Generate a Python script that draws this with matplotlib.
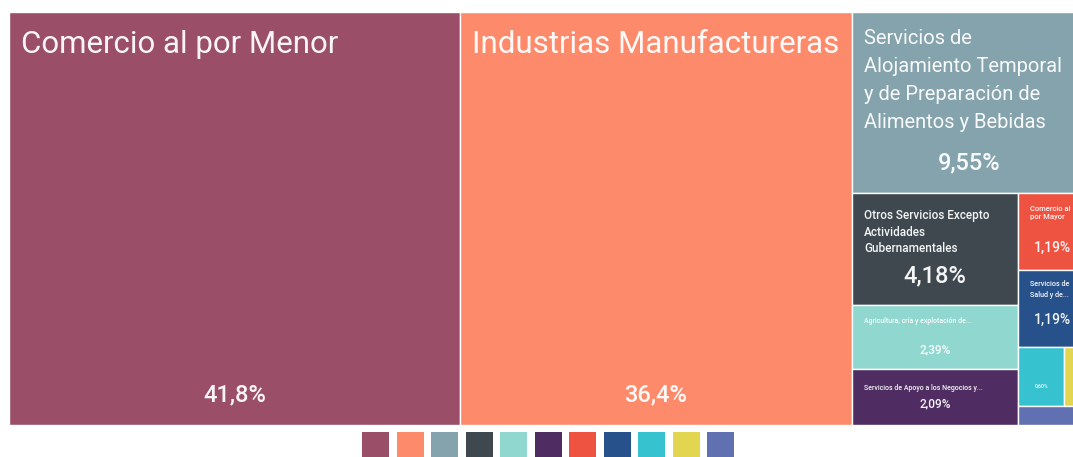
import matplotlib
matplotlib.use("Agg")
import matplotlib.pyplot as plt
from matplotlib.patches import Rectangle

plt.rcParams['font.family'] = ['Roboto', 'DejaVu Sans']

# data
categories = [
    'Comercio al por Menor',
    'Industrias Manufactureras',
    'Servicios de\nAlojamiento Temporal\ny de Preparación de\nAlimentos y Bebidas',
    'Otros Servicios Excepto\nActividades\nGubernamentales',
    'Agricultura, cría y explotación de...',
    'Servicios de Apoyo a los Negocios y...',
    'Comercio al\npor Mayor',
    'Servicios de\nSalud y de...',
    '',
    '',
    '',
]
values = [41.8, 36.4, 9.55, 4.18, 2.39, 2.09, 1.19, 1.19, 0.60, 0.30, 0.30]
colors = ['#9a4e67', '#fd8b6b', '#85a3ad', '#3e484e', '#8fd7cf', '#4f2d63',
          '#ee5342', '#27518a', '#36c3cf', '#e2d650', '#6170b1']

# text styles per cell: label size, pct size, label offset from top, pct offset
# (negative pct offset = measured from the bottom of the cell)
label_size = [22.5, 22.5, 14.5, 8.5, 5.0, 5.0, 5.5, 5.2, 0, 0, 0]
label_ls = [1.3, 1.3, 1.6, 1.35, 1.3, 1.3, 1.45, 1.45, 1, 1, 1]
pct_size = [17, 17, 17, 17, 8.5, 8.5, 10, 10, 3.8, 0, 0]
label_dy = [18, 18, 17, 16, 12, 15, 13, 10, 0, 0, 0]
pct_dy = [-30, -30, 151, 83, 45, 35, 55, 50, 39, 0, 0]

W, H = 1078, 413
PHI = (1 + 5 ** 0.5) / 2


def squarify(vals, x0, y0, x1, y1, ratio=PHI):
    # same idea as d3.treemapSquarify
    rects = []
    value = sum(vals)
    i0, n = 0, len(vals)
    while i0 < n:
        dx, dy = x1 - x0, y1 - y0
        i1 = i0
        sumv = vals[i1]
        i1 += 1
        minv = maxv = sumv
        alpha = max(dy / dx, dx / dy) / (value * ratio)
        beta = sumv * sumv * alpha
        minr = max(maxv / beta, beta / minv)
        while i1 < n:
            v = vals[i1]
            s = sumv + v
            mn, mx = min(minv, v), max(maxv, v)
            beta = s * s * alpha
            nr = max(mx / beta, beta / mn)
            if nr > minr:
                break
            sumv, minv, maxv, minr = s, mn, mx, nr
            i1 += 1
        row = vals[i0:i1]
        if dx < dy:
            h = dy * sumv / value
            xx = x0
            for v in row:
                w = dx * v / sumv
                rects.append((xx, y0, w, h))
                xx += w
            y0 += h
        else:
            w = dx * sumv / value
            yy = y0
            for v in row:
                h = dy * v / sumv
                rects.append((x0, yy, w, h))
                yy += h
            x0 += w
        value -= sumv
        i0 = i1
    return rects


def fmt(v):
    s = f"{v:.1f}" if v >= 10 else f"{v:.2f}"
    return s.replace('.', ',') + '%'


fig = plt.figure(figsize=(10.73, 4.57), dpi=100)
ax = fig.add_axes([9 / 1073, 32 / 457, W / 1073, H / 457])
ax.set_xlim(0, W)
ax.set_ylim(H, 0)
ax.axis('off')

rects = squarify(values, 0, 0, W, H)
for i, (x, y, w, h) in enumerate(rects):
    ax.add_patch(Rectangle((x, y), w, h, facecolor=colors[i], edgecolor='white', lw=1.0))
    if categories[i] and label_size[i]:
        ax.text(x + 12, y + label_dy[i], categories[i], color='white', fontsize=label_size[i],
                ha='left', va='top', linespacing=label_ls[i],
                fontweight='medium' if label_size[i] < 10 else 'normal', alpha=0.95)
    if pct_size[i]:
        py = y + h + pct_dy[i] if pct_dy[i] < 0 else y + pct_dy[i]
        ax.text(x + w / 2, py, fmt(values[i]), color='white', fontsize=pct_size[i],
                ha='center', va='center', fontweight='medium', alpha=0.95)

# colour legend squares under the treemap
lax = fig.add_axes([362 / 1073, -2 / 457, 372 / 1073, 27 / 457])
lax.bar(range(len(colors)), 1, width=27 / 34.5, color=colors)
lax.set_xlim(-0.5 * 27 / 34.5, len(colors) - 1 + 0.5 * 27 / 34.5)
lax.set_ylim(0, 1)
lax.axis('off')

fig.savefig('out.png', dpi=100, facecolor='white')
